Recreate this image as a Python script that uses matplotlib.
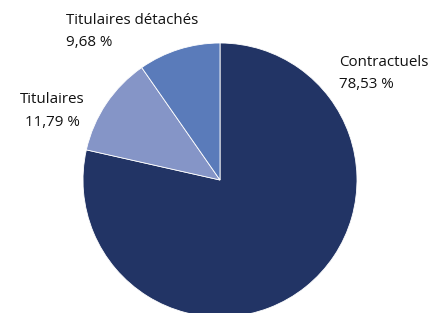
import matplotlib
matplotlib.use("Agg")
import matplotlib.pyplot as plt

categories = ["Contractuels", "Titulaires", "Titulaires détachés"]
values = [78.53, 11.79, 9.68]
value_labels = ["78,53 %", "11,79 %", "9,68 %"]
colors = ["#223465", "#8595C7", "#5A7BBA"]

W, H = 433, 313
fig = plt.figure(figsize=(W/100, H/100), dpi=100)
cx, cy, r = 220, 180, 137
ax = fig.add_axes([(cx - r)/W, (H - cy - r)/H, 2*r/W, 2*r/H])
ax.pie(values, colors=colors, startangle=90, counterclock=False, radius=1,
       wedgeprops=dict(edgecolor="white", linewidth=0.6))
ax.set_xlim(-1, 1)
ax.set_ylim(-1, 1)
ax.set_aspect("equal")
ax.axis("off")

font = dict(family="Open Sans", fontsize=10.9, color="#111111")

def fx(px):
    return px / W

def fy(py):
    return 1 - py / H

# Contractuels
fig.text(fx(339), fy(62), categories[0], ha="left", va="center", **font)
fig.text(fx(339), fy(85), value_labels[0], ha="left", va="center", **font)
# Titulaires
fig.text(fx(52), fy(100), categories[1], ha="center", va="center", **font)
fig.text(fx(52), fy(122), value_labels[1], ha="center", va="center", **font)
# Titulaires détachés
fig.text(fx(66), fy(20), categories[2], ha="left", va="center", **font)
fig.text(fx(66), fy(43), value_labels[2], ha="left", va="center", **font)

fig.savefig("out.png", dpi=100)
